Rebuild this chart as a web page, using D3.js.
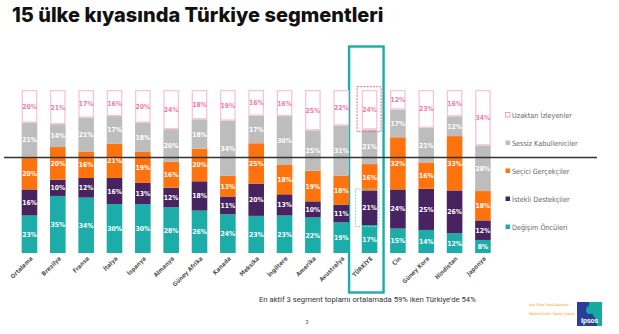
<!DOCTYPE html>
<html><head><meta charset="utf-8">
<script src="https://cdn.jsdelivr.net/npm/d3@7"></script>
<style>html,body{margin:0;padding:0;background:#fff;}svg{display:block;}</style>
</head><body>
<script>
const countries = ["Ortalama","Brezilya","Fransa","İtalya","İspanya","Almanya","Güney Afrika","Kanada","Meksika","İngiltere","Amerika","Avustralya","TÜRKİYE","Çin","Güney Kore","Hindistan","Japonya"];
const segments = ["Değişim Öncüleri","İstekli Destekçiler","Seçici Gerçekçiler","Sessiz Kabulleniciler","Uzaktan İzleyenler"];
const degisimOnculeri   = [23,35,34,30,30,28,26,24,23,23,22,19,17,15,14,12,8];
const istekliDestekciler= [16,10,12,16,13,12,18,11,20,13,10,11,21,24,25,26,12];
const seciciGercekciler = [20,20,16,21,19,16,20,13,25,18,19,18,16,32,16,33,18];
const sessizKabulleniciler=[21,14,21,17,18,20,18,34,17,30,25,31,21,17,21,12,28];
const uzaktanIzleyenler = [20,21,17,16,20,24,18,19,16,16,25,22,24,12,23,16,34];
const legendOrder = ["Uzaktan İzleyenler","Sessiz Kabulleniciler","Seçici Gerçekçiler","İstekli Destekçiler","Değişim Öncüleri"];
const title = "15 ülke kıyasında Türkiye segmentleri";
const note = "En aktif 3 segment toplamı ortalamada 59% iken Türkiye'de 54%";

const seriesArrays = [degisimOnculeri, istekliDestekciler, seciciGercekciler, sessizKabulleniciler, uzaktanIzleyenler];
const rows = countries.map((c,i)=>{const r={country:c}; segments.forEach((s,j)=>r[s]=seriesArrays[j][i]); return r;});

const fill = {"Değişim Öncüleri":"#1cada8","İstekli Destekçiler":"#47235f","Seçici Gerçekçiler":"#ff730f","Sessiz Kabulleniciler":"#bdbdbd","Uzaktan İzleyenler":"#ffffff"};
const textCol = {"Uzaktan İzleyenler":"#f27aa9"};

const W=619,H=334;
const svg=d3.select("body").append("svg").attr("width",W).attr("height",H);

svg.append("text").attr("x",12).attr("y",22).text(title)
  .attr("font-family","Inter, Roboto, sans-serif").attr("font-weight",800).attr("font-size",20).attr("fill","#111");

const x=d3.scaleBand().domain(countries).range([15.3,497.1]).paddingInner(0.45).paddingOuter(0.225);
const y=d3.scaleLinear().domain([0,1]).range([253,90]);

const stack=d3.stack().keys(segments).offset(d3.stackOffsetExpand);
const series=stack(rows);

// highlight box around Türkiye
const tx=x("TÜRKİYE")+x.bandwidth()/2;
svg.append("rect").attr("x",tx-20.5).attr("y",46.5).attr("width",34.5).attr("height",246)
  .attr("fill","none").attr("stroke","#1aada6").attr("stroke-width",2.4);

const g=svg.append("g");
series.forEach(s=>{
  const key=s.key;
  const pink=key==="Uzaktan İzleyenler";
  g.selectAll(null).data(s).join("rect")
    .attr("x",d=>x(d.data.country)+(pink?0.6:0))
    .attr("width",x.bandwidth()-(pink?1.2:0))
    .attr("y",d=>y(d[1])+(pink?0.6:0))
    .attr("height",d=>y(d[0])-y(d[1])-(pink?1.2:0))
    .attr("fill",fill[key])
    .attr("stroke",pink?"#f9c3d8":"none")
    .attr("stroke-width",1.3);
  g.selectAll(null).data(s).join("text")
    .attr("x",d=>x(d.data.country)+x.bandwidth()/2)
    .attr("y",d=>(y(d[0])+y(d[1]))/2+2.5)
    .attr("text-anchor","middle")
    .attr("font-family","'DejaVu Sans Condensed','DejaVu Sans',sans-serif").attr("font-weight",700)
    .attr("font-size",6.8).attr("fill",textCol[key]||"#fff")
    .text(d=>d.data[key]+"%");
});

// dashed highlights on Türkiye segments
const tr=series.map(s=>s.find(d=>d.data.country==="TÜRKİYE"));
svg.append("rect").attr("x",tx-12.5).attr("y",y(tr[4][1])-3.3).attr("width",24).attr("height",y(tr[4][0])-y(tr[4][1])+5.5)
  .attr("fill","none").attr("stroke","#ec6a7a").attr("stroke-width",1).attr("stroke-dasharray","2,1.2");
svg.append("rect").attr("x",tx-14).attr("y",y(tr[1][1])-1.4).attr("width",23.5).attr("height",y(tr[1][0])-y(tr[1][1])+3)
  .attr("fill","none").attr("stroke","#8fd3d6").attr("stroke-width",1).attr("stroke-dasharray","2,1.2");

// horizontal separator
svg.append("line").attr("x1",4).attr("x2",597).attr("y1",157.5).attr("y2",157.5).attr("stroke","#333").attr("stroke-width",1.4);

// x labels
svg.append("g").selectAll("text").data(countries).join("text")
  .attr("transform",d=>`translate(${x(d)+x.bandwidth()/2+3.5},${259}) rotate(-45)`)
  .attr("text-anchor","end")
  .attr("font-family","'DejaVu Sans Condensed','DejaVu Sans',sans-serif").attr("font-weight",700)
  .attr("font-size",6).attr("fill","#555").text(d=>d);

// legend
const lg=svg.append("g");
legendOrder.forEach((k,i)=>{
  const yy=115+i*28;
  lg.append("rect").attr("x",505.5).attr("y",yy-2.5).attr("width",4.5).attr("height",4.5)
    .attr("fill",fill[k]).attr("stroke",k==="Uzaktan İzleyenler"?"#f48cb6":"none").attr("stroke-width",0.8);
  lg.append("text").attr("x",512).attr("y",yy+2.6).text(k)
    .attr("font-family","'DejaVu Sans Condensed','DejaVu Sans',sans-serif").attr("font-size",7.2).attr("fill","#666");
});

// bottom note
svg.append("text").attr("x",259).attr("y",302).text(note)
  .attr("font-family","Roboto, sans-serif").attr("font-size",7.7).attr("fill","#333");
svg.append("text").attr("x",305.5).attr("y",324).text("3")
  .attr("font-family","Roboto, sans-serif").attr("font-size",5).attr("fill","#444");

// footer small text & logo
svg.append("text").attr("x",529).attr("y",306).text("Ipsos Türkiye | Sosyal Araştırmalar")
  .attr("font-family","Roboto, sans-serif").attr("font-size",2.6).attr("fill","#f5a623");
svg.append("text").attr("x",529).attr("y",315).text("Değişimin Öncüleri · Segment Çalışması")
  .attr("font-family","Roboto, sans-serif").attr("font-size",2.6).attr("fill","#f5a623");
const logo=svg.append("g").attr("transform","translate(577,302)");
logo.append("rect").attr("width",25).attr("height",24).attr("fill","#2b3d97");
logo.append("path").attr("d","M12,0 L25,0 L25,24 L20,24 C20,15 14,12 12,6 Z").attr("fill","#17a89e");
logo.append("circle").attr("cx",13).attr("cy",8).attr("r",4).attr("fill","#17a89e");
logo.append("text").attr("x",12.5).attr("y",21).attr("text-anchor","middle").text("Ipsos")
  .attr("font-family","Roboto, sans-serif").attr("font-weight",700).attr("font-size",7).attr("fill","#fff");
</script>
</body></html>
